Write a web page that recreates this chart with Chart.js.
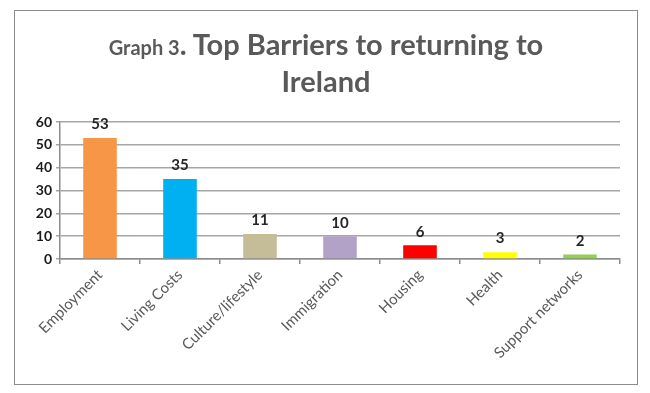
<!DOCTYPE html>
<html>
<head>
<meta charset="utf-8">
<script src="https://cdn.jsdelivr.net/npm/chart.js@4"></script>
<style>
  html, body { margin: 0; padding: 0; background: #fff; }
  #wrap { position: relative; width: 650px; height: 393px; }
  #frame {
    position: absolute; left: 14px; top: 10px; width: 622px; height: 373px;
    border: 1px solid #8c8c8c; pointer-events: none;
  }
  #title {
    position: absolute; left: 14px; top: 27px; width: 624px;
    text-align: center; font-family: Lato, "Open Sans", sans-serif;
    font-weight: bold; color: #595959; font-size: 29px; line-height: 34px;
  }
  #title .small { font-size: 20px; }
  canvas { position: absolute; left: 0; top: 0; }
</style>
</head>
<body>
<div id="wrap">
  <canvas id="chart" width="650" height="393"></canvas>
  <div id="frame"></div>
  <div id="title"><span class="small">Graph 3</span>. Top Barriers to returning to<br>Ireland</div>
</div>
<script>
// chart data
var categories = ["Employment", "Living Costs", "Culture/lifestyle", "Immigration", "Housing", "Health", "Support networks"];
var counts = [53, 35, 11, 10, 6, 3, 2];
var barColors = ["#F79646", "#00B0F0", "#C4BD97", "#B3A2C7", "#FF0000", "#FFFF00", "#92D050"];
var yTicks = [0, 10, 20, 30, 40, 50, 60];

// value labels above the bars
var valueLabels = {
  id: "valueLabels",
  afterDatasetsDraw: function (chart) {
    var ctx = chart.ctx;
    var meta = chart.getDatasetMeta(0);
    ctx.save();
    ctx.font = "bold 15px Lato, 'Open Sans', sans-serif";
    ctx.fillStyle = "#262626";
    ctx.textAlign = "center";
    ctx.textBaseline = "bottom";
    meta.data.forEach(function (bar, i) {
      ctx.fillText(String(counts[i]), bar.x, bar.y - 6);
    });
    ctx.restore();
  }
};

new Chart(document.getElementById("chart"), {
  type: "bar",
  data: {
    labels: categories,
    datasets: [{
      data: counts,
      backgroundColor: barColors,
      borderWidth: 0,
      categoryPercentage: 1,
      barPercentage: 0.42
    }]
  },
  options: {
    responsive: false,
    animation: false,
    layout: { padding: { left: 30, right: 30, top: 122, bottom: 0 } },
    plugins: {
      legend: { display: false },
      tooltip: { enabled: false },
      title: { display: false }
    },
    scales: {
      x: {
        offset: true,
        afterFit: function (scale) { scale.height = 134; },
        border: { color: "#8c8c8c", width: 1.5 },
        grid: {
          offset: true,
          drawOnChartArea: false,
          drawTicks: true,
          tickLength: 5,
          color: "#8c8c8c",
          lineWidth: 1.5
        },
        ticks: {
          minRotation: 45,
          maxRotation: 45,
          color: "#595959",
          padding: 2,
          font: { family: "Lato, 'Open Sans', sans-serif", size: 15 }
        }
      },
      y: {
        min: 0,
        max: 60,
        afterFit: function (scale) { scale.width = 30; },
        afterBuildTicks: function (scale) {
          scale.ticks = yTicks.map(function (v) { return { value: v }; });
        },
        border: { color: "#8c8c8c", width: 1.5 },
        grid: {
          color: "#a6a6a6",
          lineWidth: 1.5,
          drawTicks: true,
          tickLength: 4
        },
        ticks: {
          color: "#1a1a1a",
          padding: 4,
          font: { family: "Lato, 'Open Sans', sans-serif", size: 14, weight: "bold" }
        }
      }
    }
  },
  plugins: [valueLabels]
});
</script>
</body>
</html>
